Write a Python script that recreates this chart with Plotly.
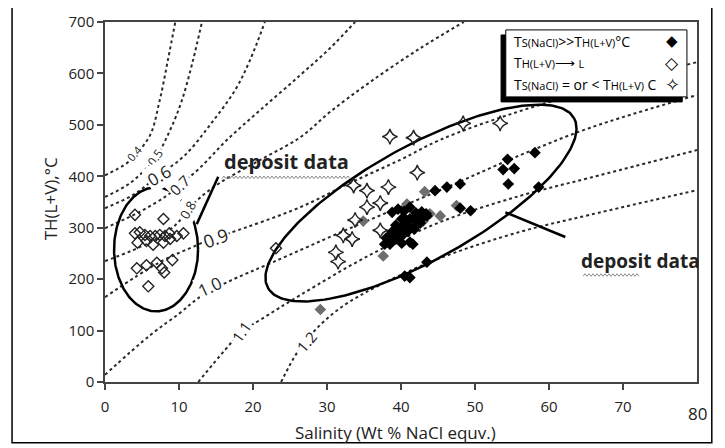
import numpy as np
import plotly.graph_objects as go

# ---------------- data ----------------
# series 1: Ts(NaCl) >> Th(L+V)  (filled diamonds)
s1_x = [38.8, 39.6, 40.4, 41.2, 42.0, 40.1, 40.9, 41.8, 42.6, 39.3, 40.1, 40.9, 41.8, 38.5,
        39.3, 40.1, 37.8, 41.2, 41.6, 43.5, 40.5, 41.2, 43.5, 44.6, 46.2, 48.0, 48.0, 49.4,
        58.1, 54.4, 53.8, 55.3, 54.5, 58.6,
        38.0, 38.8, 39.6, 40.4, 41.2, 42.0, 42.8, 38.5, 39.3, 40.1, 41.0, 41.8, 42.6, 43.4, 40.4]
s1_y = [330, 336, 332, 340, 329, 317, 313, 317, 309, 305, 297, 293, 297, 286,
        278, 270, 268, 272, 268, 323, 206, 203, 233, 372, 379, 385, 338, 333,
        446, 433, 413, 415, 385, 379,
        280, 292, 299, 307, 317, 323, 331, 268, 284, 284, 299, 303, 315, 327, 319]
# same series, points drawn grey in the original
s1g_x = [34.9, 40.8, 43.9, 45.3, 37.6, 47.5, 43.2, 43.0, 29.1]
s1g_y = [313, 346, 327, 323, 245, 343, 370, 313, 141]

# series 2: Th(L+V) -> L (open diamonds)
s2_x = [4.05, 7.9, 4.05, 4.7, 5.4, 6.1, 6.8, 7.4, 8.1, 8.7, 9.7, 10.6, 4.4, 5.6, 6.5, 7.9,
        8.8, 4.3, 5.6, 7.0, 7.7, 8.0, 9.1, 5.85, 23.1]
s2_y = [325, 317, 289, 291, 286, 284, 284, 286, 284, 289, 284, 289, 271, 274, 267, 271,
        278, 221, 227, 232, 221, 213, 237, 186, 260]

# series 3: Ts(NaCl) = or < Th(L+V) (open stars)
s3_x = [38.5, 41.7, 42.2, 33.6, 35.4, 38.3, 37.2, 35.4, 33.8, 32.2, 33.4, 37.2, 31.2, 31.5,
        48.4, 53.4]
s3_y = [477, 475, 407, 382, 372, 379, 348, 340, 315, 285, 278, 295, 252, 234,
        503, 503]

# density isolines (g/cm3)
iso_labels = ["0.4", "0.5", "0.6", "0.7", "0.8", "0.9", "1.0", "1.1", "1.2"]
iso_x = [
    [0, 3.0, 4.3, 6.1, 7.4, 8.5, 9.5],
    [0, 3.4, 6.8, 8.8, 10.4, 11.9, 13.1],
    [0, 3.8, 7.3, 10.8, 14.2, 17.6, 19.6, 21.6],
    [0, 4.7, 8.1, 10.1, 12.8, 16.5, 21.0, 26.4, 30.4, 33.8],
    [0, 6.1, 9.5, 11.2, 12.8, 15.5, 21.0, 26.4, 30.4, 35.8, 42.6, 48.5],
    [0, 7.4, 12.4, 14.6, 16.9, 26.4, 33.1, 39.9, 45.3, 55.7, 66.9, 80],
    [0, 6.1, 10.1, 12.8, 16.5, 22.7, 33.1, 45.3, 56.1, 65.5, 80],
    [12.6, 16.2, 18.4, 21.0, 26.4, 35.8, 45.3, 56.1, 65.5, 80],
    [23.8, 26.0, 28.4, 31.8, 37.2, 45.3, 56.1, 65.5, 80],
]
iso_y = [
    [402, 426, 445, 480, 548, 626, 700],
    [360, 387, 436, 490, 548, 626, 700],
    [338, 364, 402, 441, 500, 568, 626, 700],
    [299, 331, 360, 383, 416, 471, 529, 597, 649, 700],
    [235, 272, 305, 334, 358, 387, 432, 476, 525, 583, 649, 700],
    [165, 233, 266, 280, 290, 340, 387, 432, 471, 525, 572, 622],
    [14, 91, 134, 165, 194, 233, 299, 373, 441, 494, 558],
    [0, 62, 97, 121, 169, 247, 311, 362, 397, 451],
    [0, 58, 101, 144, 189, 241, 292, 325, 373],
]
# label anchor (x, y), rotation, font size
iso_lab_x = [3.9, 6.8, 7.3, 10.1, 11.2, 14.9, 14.2, 18.4, 27.2]
iso_lab_y = [445, 436, 402, 383, 334, 280, 185, 97, 78]
iso_lab_rot = [-50, -55, -30, -45, -60, -20, -25, -55, -50]
iso_lab_size = [11, 12, 17, 15, 13, 18, 17, 15, 15]

x_ticks = [0, 10, 20, 30, 40, 50, 60, 70]
y_ticks = [0, 100, 200, 300, 400, 500, 600, 700]

# ---------------- figure ----------------
W, H = 717, 440            # page body adds an 8px margin
ML, MR, MT, MB = 97, 28, 14, 66
XR, YR = (0, 80), (0, 700)
PXX = (W - ML - MR) / (XR[1] - XR[0])
PXY = (H - MT - MB) / (YR[1] - YR[0])

FONT = "Open Sans"
INK = "#222"

fig = go.Figure()

for i in range(len(iso_labels)):
    fig.add_trace(go.Scatter(x=iso_x[i], y=iso_y[i], mode="lines", line_shape="spline",
                             line=dict(color="#2a2a2a", width=2, dash="dot"),
                             hoverinfo="skip", showlegend=False))


def ellipse(cx, cy, a_px, b_px, ang_deg, n=240):
    t = np.linspace(0, 2 * np.pi, n)
    th = np.deg2rad(ang_deg)
    u, v = a_px * np.cos(t), b_px * np.sin(t)
    dx = u * np.cos(th) - v * np.sin(th)
    dy = u * np.sin(th) + v * np.cos(th)
    return cx + dx / PXX, cy + dy / PXY


for (cx, cy, a, b, ang) in [(6.9, 258, 42, 62, 0), (42.7, 348, 175, 57, 29)]:
    ex, ey = ellipse(cx, cy, a, b, ang)
    fig.add_trace(go.Scatter(x=ex, y=ey, mode="lines", line=dict(color="black", width=2.5),
                             hoverinfo="skip", showlegend=False))

# pointer lines
for (xs, ys) in [([15.3, 12.4], [399, 307]), ([54.1, 62.2], [330, 282])]:
    fig.add_trace(go.Scatter(x=xs, y=ys, mode="lines", line=dict(color="black", width=2.5),
                             hoverinfo="skip", showlegend=False))

fig.add_trace(go.Scatter(x=s2_x, y=s2_y, mode="markers", showlegend=False,
                         marker=dict(symbol="diamond-open", size=8.5, color=INK, line=dict(width=1.4))))
fig.add_trace(go.Scatter(x=s1g_x, y=s1g_y, mode="markers", showlegend=False,
                         marker=dict(symbol="diamond", size=9, color="#6e6e6e")))
fig.add_trace(go.Scatter(x=s1_x, y=s1_y, mode="markers", showlegend=False,
                         marker=dict(symbol="diamond", size=9, color="black")))
fig.add_trace(go.Scatter(x=s3_x, y=s3_y, mode="markers", showlegend=False,
                         marker=dict(symbol="star-diamond-open", size=11, color=INK,
                                     line=dict(width=1.4))))


def wave(x0, x1, y0, amp_px=1.3, per_px=4.0):
    """zig-zag underline path (data coords)"""
    n = int((x1 - x0) * PXX / (per_px / 2))
    pts = []
    for k in range(n + 1):
        xx = x0 + k * (per_px / 2) / PXX
        yy = y0 + (amp_px if k % 2 else -amp_px) / PXY
        pts.append(f"{xx:.3f},{yy:.2f}")
    return "M" + " L".join(pts)


ann = []
for i, lab in enumerate(iso_labels):
    ann.append(dict(x=iso_lab_x[i], y=iso_lab_y[i], text=lab, showarrow=False, textangle=iso_lab_rot[i],
                    font=dict(family=FONT, size=iso_lab_size[i], color=INK), bgcolor="white"))

ann += [
    dict(x=24.5, y=428, text="<b>deposit data</b>", showarrow=False,
         font=dict(family=FONT, size=20, color=INK)),
    dict(x=72.3, y=236, text="<b>deposit data</b>", showarrow=False,
         font=dict(family=FONT, size=19, color=INK)),
    dict(x=80, y=0, text="80", showarrow=False, yshift=-31, xanchor="center",
         font=dict(family=FONT, size=17, color=INK)),
    dict(xref="paper", yref="paper", x=0.49, y=-0.139, text="Salinity (Wt % NaCl equv.)", showarrow=False,
         xanchor="center", yanchor="middle", font=dict(family=FONT, size=17, color=INK)),
    dict(xref="paper", yref="paper", x=-0.093, y=0.51, text="TH(L+V),°C", showarrow=False, textangle=-90,
         xanchor="center", yanchor="middle", font=dict(family=FONT, size=17, color=INK)),
]
sm = "<span style='font-size:11px'>"
leg_text = [
    f"T{sm}S(NaCl)</span>>>T{sm}H(L+V)</span>°C",
    f"T{sm}H(L+V)</span>⟶ {sm}L</span>",
    f"T{sm}S(NaCl)</span> = or < T{sm}H(L+V)</span> C",
]
leg_sym = ["◆", "◇", "✧"]
leg_sym_size = [15, 17, 18]
for t, s, ss, yy in zip(leg_text, leg_sym, leg_sym_size, [0.947, 0.887, 0.826]):
    ann.append(dict(xref="paper", yref="paper", x=0.6875, y=yy, text=t, showarrow=False,
                    xanchor="left", yanchor="middle",
                    font=dict(family=FONT, size=14, color="black")))
    ann.append(dict(xref="paper", yref="paper", x=0.958, y=yy, text=s, showarrow=False,
                    xanchor="center", yanchor="middle",
                    font=dict(family="DejaVu Sans", size=ss, color="black")))

shapes = [
    # outer frame
    dict(type="rect", xref="paper", yref="paper", x0=-0.157, x1=1.025, y0=-0.169, y1=1.044,
         line=dict(color="black", width=1.5), layer="below"),
    # legend shadow + box
    dict(type="rect", xref="paper", yref="paper", x0=0.669, x1=0.975, y0=0.778, y1=0.964,
         fillcolor="black", line=dict(color="black", width=1)),
    dict(type="rect", xref="paper", yref="paper", x0=0.677, x1=0.983, y0=0.792, y1=0.978,
         fillcolor="white", line=dict(color="black", width=1)),
    # spell-check style wavy underlines
    dict(type="path", xref="x", yref="y", path=wave(15.8, 33.2, 398), line=dict(color="#8a8a8a", width=1)),
    dict(type="path", xref="x", yref="y", path=wave(64.6, 72.4, 208), line=dict(color="#8a8a8a", width=1)),
]

axis_common = dict(showgrid=False, zeroline=False, showline=True, linecolor="#444", linewidth=1.5,
                   mirror=True, ticks="outside", ticklen=6, tickwidth=1.5, tickcolor="#444",
                   automargin=False, tickfont=dict(family=FONT, size=15, color=INK))

fig.update_layout(
    width=W, height=H, margin=dict(l=ML, r=MR, t=MT, b=MB),
    paper_bgcolor="white", plot_bgcolor="white",
    xaxis=dict(range=list(XR), tickvals=x_ticks, ticklabelstandoff=4, **axis_common),
    yaxis=dict(range=list(YR), tickvals=y_ticks, **axis_common),
    annotations=ann, shapes=shapes, showlegend=False,
)

fig.write_html("out.html")
